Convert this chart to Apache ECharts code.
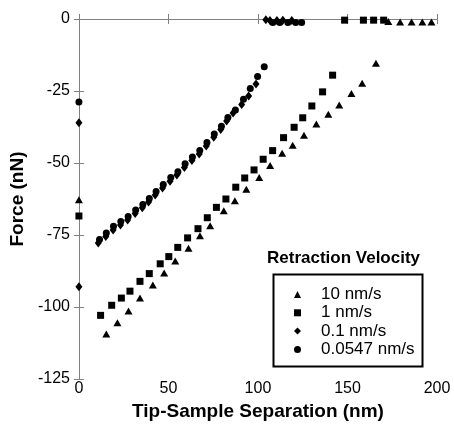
<!DOCTYPE html>
<html>
<head>
<meta charset="utf-8">
<script src="https://cdn.jsdelivr.net/npm/echarts@6/dist/echarts.min.js"></script>
<style>html,body{margin:0;padding:0;background:#fff;}#c{width:454px;height:426px;}</style>
</head>
<body>
<div id="c"></div>
<script>
// Tick labels
const xTicks = [0, 50, 100, 150, 200];
const yTicks = [-125, -100, -75, -50, -25, 0];

const seriesNames = ['10 nm/s', '1 nm/s', '0.1 nm/s', '0.0547 nm/s'];

// 10 nm/s (triangles)
const v10 = [
  [0, -62.8],
  [15.3, -109.4], [21.5, -105.5], [27.7, -101.4], [34.1, -96.9], [41.3, -92.4],
  [47.6, -88.2], [53.8, -84.0], [61.2, -79.6], [67.6, -75.3], [73.3, -71.8],
  [80.9, -66.6], [87.1, -63.1], [93.5, -59.1], [100.7, -55.0], [106.8, -50.9],
  [113.5, -46.6], [119.4, -43.8], [125.7, -40.4], [132.6, -36.5], [139.3, -33.1],
  [145.4, -29.9], [152.2, -25.9], [158.2, -22.3], [165.9, -15.4],
  [172.8, -0.9], [179.4, -1.0], [185.8, -1.0], [191.8, -1.0], [196.9, -1.0]
];

// 1 nm/s (squares)
const v1 = [
  [0, -68.4],
  [12.1, -102.9], [18.3, -99.4], [23.7, -96.9], [28.5, -94.5], [34.1, -91.1],
  [39.3, -88.4], [45.4, -85.0], [50.2, -82.5], [55.2, -79.3], [60.7, -76.0],
  [66.5, -72.8], [71.7, -69.0], [76.8, -65.4], [82.1, -62.5], [87.6, -58.4],
  [92.6, -55.2], [97.8, -52.4], [102.9, -48.7], [108.2, -45.7], [114.3, -41.2],
  [120.2, -37.6], [125.0, -34.3], [130.1, -30.2], [136.1, -25.3], [141.7, -19.5],
  [148.4, -0.4], [158.9, -0.4], [164.6, -0.4], [170.2, -0.4]
];

// 0.1 nm/s (diamonds)
const v01 = [
  [0, -36.0], [0, -93.0],
  [10.8, -77.8], [15.0, -75.5], [19.1, -73.3], [23.2, -71.5], [27.2, -69.8],
  [31.4, -67.5], [35.4, -65.5], [38.9, -63.5], [42.6, -61.1], [46.7, -58.7],
  [50.9, -56.3], [54.7, -54.2], [58.9, -51.6], [63.1, -49.1], [67.2, -46.9],
  [71.1, -44.1], [75.3, -41.1], [79.2, -38.4], [82.5, -35.4], [86.1, -32.6],
  [90.9, -29.7], [94.8, -26.7], [98.9, -22.6],
  [104.4, -0.3], [106.7, -0.5], [110.6, -0.5], [113.9, -0.4], [118.9, -0.5]
];

// 0.0547 nm/s (circles)
const v0547 = [
  [0, -28.8],
  [11.5, -76.6], [15.3, -74.3], [19.3, -72.0], [23.4, -70.3], [27.5, -68.6],
  [31.7, -66.3], [35.7, -64.4], [39.3, -62.3], [43.1, -59.9], [47.1, -57.5],
  [51.3, -55.0], [55.3, -53.0], [59.3, -50.3], [63.4, -47.9], [67.5, -45.7],
  [71.5, -42.9], [75.6, -39.9], [79.6, -37.2], [83.2, -34.2], [87.4, -31.6],
  [91.9, -27.9], [95.7, -24.1], [99.8, -20.0], [103.5, -16.6],
  [108.3, -1.2], [112.2, -1.2], [116.7, -1.2], [121.1, -1.2], [124.4, -1.2]
];

const symbols = ['triangle', 'rect', 'diamond', 'circle'];
const sizes = [[8, 7], 7, [7, 9], 7];
const dataSets = [v10, v1, v01, v0547];

const FONT = '"Liberation Sans", Arial, sans-serif';
const AX = '#808080';

const chart = echarts.init(document.getElementById('c'), null, {renderer: 'canvas'});

const axisCommon = {
  axisLine: {show: true, lineStyle: {color: AX, width: 1}},
  axisTick: {show: true, inside: true, length: 5, lineStyle: {color: AX}},
  splitLine: {show: false}
};

chart.setOption({
  animation: false,
  backgroundColor: '#fff',
  grid: {left: 77, right: 17, top: 19, bottom: 47, containLabel: false},
  xAxis: [
    Object.assign({
      type: 'value', min: xTicks[0], max: xTicks[xTicks.length - 1], interval: 50,
      position: 'bottom',
      name: 'Tip-Sample Separation (nm)', nameLocation: 'middle', nameGap: 14,
      nameTextStyle: {fontFamily: FONT, fontWeight: 'bold', fontSize: 19, color: '#000'},
      axisLabel: {fontFamily: FONT, fontSize: 16, color: '#000', margin: 2}
    }, axisCommon),
    Object.assign({
      type: 'value', min: xTicks[0], max: xTicks[xTicks.length - 1], interval: 50,
      position: 'top', axisLabel: {show: false}
    }, axisCommon)
  ],
  yAxis: [
    Object.assign({
      type: 'value', min: yTicks[0], max: yTicks[yTicks.length - 1], interval: 25,
      position: 'left',
      name: 'Force (nN)', nameLocation: 'middle', nameGap: 42,
      nameTextStyle: {fontFamily: FONT, fontWeight: 'bold', fontSize: 19, color: '#000'},
      axisLabel: {fontFamily: FONT, fontSize: 16, color: '#000', margin: 9}
    }, axisCommon),
    Object.assign({
      type: 'value', min: yTicks[0], max: yTicks[yTicks.length - 1], interval: 25,
      position: 'right', axisLabel: {show: false}
    }, axisCommon)
  ],
  legend: {
    orient: 'vertical',
    left: 289, top: 281,
    itemWidth: 7, itemHeight: 7, itemGap: 1.3,
    selectedMode: false,
    textStyle: {fontFamily: FONT, fontSize: 17, color: '#000', lineHeight: 17, padding: [0, 0, 0, 15]},
    data: seriesNames.map((n, i) => ({name: n, icon: symbols[i], itemStyle: {color: '#000'}}))
  },
  graphic: [
    {type: 'rect', left: 271, top: 272, shape: {width: 149, height: 92},
     style: {fill: 'none', stroke: '#000', lineWidth: 2}, z: 10},
    {type: 'text', left: 267, top: 250,
     style: {text: 'Retraction Velocity', font: 'bold 17px "Liberation Sans", Arial, sans-serif', fill: '#000'},
     z: 10}
  ],
  series: dataSets.map((d, i) => ({
    name: seriesNames[i],
    type: 'scatter',
    data: d,
    symbol: symbols[i],
    symbolSize: sizes[i],
    clip: false,
    itemStyle: {color: '#000', opacity: 1},
    emphasis: {disabled: true}
  }))
});
</script>
</body>
</html>
